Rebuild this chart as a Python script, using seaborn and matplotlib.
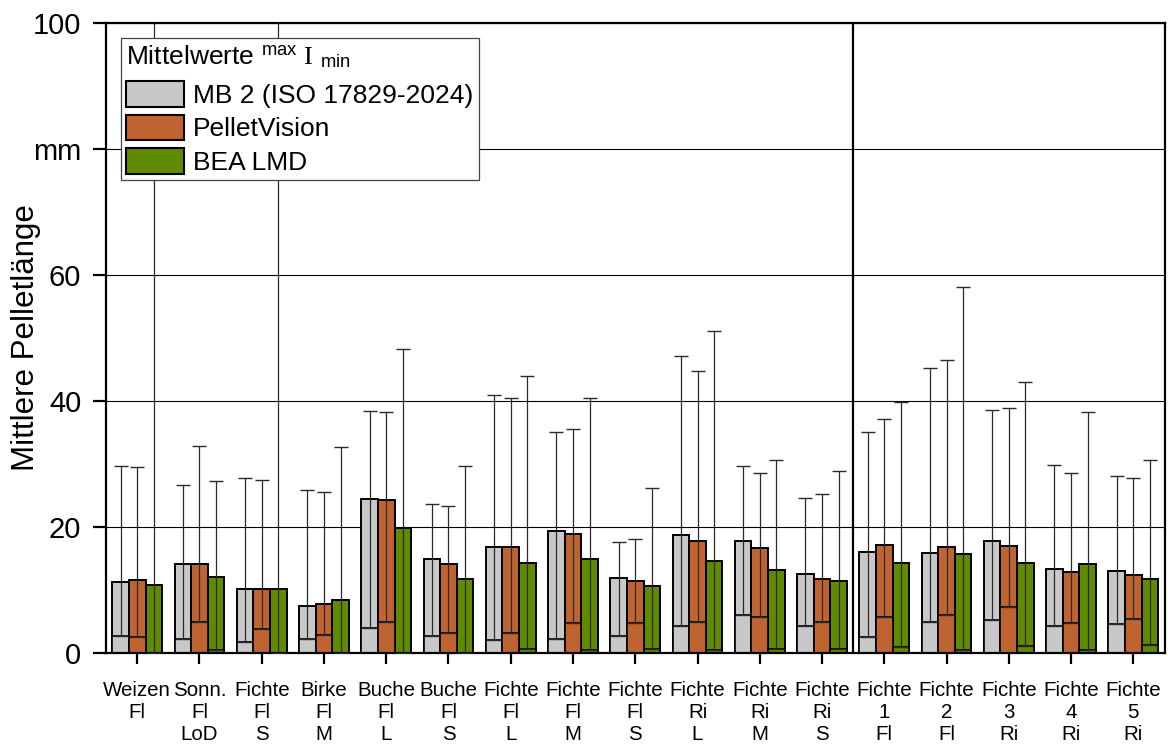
import numpy as np
import pandas as pd
import matplotlib
matplotlib.use("Agg")
import matplotlib.pyplot as plt
from matplotlib.patches import Patch
import seaborn as sns

# ---------------- data ----------------
categories = ["Weizen\nFl", "Sonn.\nFl\nLoD", "Fichte\nFl\nS", "Birke\nFl\nM", "Buche\nFl\nL",
              "Buche\nFl\nS", "Fichte\nFl\nL", "Fichte\nFl\nM", "Fichte\nFl\nS", "Fichte\nRi\nL",
              "Fichte\nRi\nM", "Fichte\nRi\nS", "Fichte\n1\nFl", "Fichte\n2\nFl", "Fichte\n3\nRi",
              "Fichte\n4\nRi", "Fichte\n5\nRi"]
methods = ["MB 2 (ISO 17829-2024)", "PelletVision", "BEA LMD"]

mb2_mean = [11.3, 14.2, 10.2, 7.4, 24.4, 14.9, 16.9, 19.3, 11.9, 18.7, 17.7, 12.5, 16.0, 15.9, 17.8, 13.4, 13.0]
mb2_min = [2.75, 2.3, 1.8, 2.3, 3.9, 2.75, 2.1, 2.2, 2.75, 4.3, 6.0, 4.3, 2.5, 5.0, 5.3, 4.3, 4.6]
mb2_max = [29.7, 26.6, 27.8, 25.9, 38.4, 23.7, 40.9, 35.1, 17.6, 47.1, 29.7, 24.6, 35.1, 45.3, 38.5, 29.8, 28.1]

pv_mean = [11.6, 14.2, 10.2, 7.8, 24.3, 14.1, 16.9, 18.9, 11.4, 17.7, 16.7, 11.7, 17.1, 16.8, 17.0, 12.9, 12.4]
pv_min = [2.5, 5.0, 3.8, 2.9, 5.0, 3.2, 3.2, 4.8, 4.7, 5.0, 5.7, 5.0, 5.7, 6.0, 7.3, 4.8, 5.4]
pv_max = [29.6, 32.8, 27.5, 25.5, 38.2, 23.3, 40.4, 35.6, 18.1, 44.8, 28.6, 25.3, 37.2, 46.5, 38.9, 28.6, 27.8]

bea_mean = [10.8, 12.1, 10.2, 8.4, 19.8, 11.8, 14.3, 14.9, 10.6, 14.6, 13.2, 11.4, 14.3, 15.7, 14.3, 14.1, 11.7]
bea_min = [0.0, 0.5, 0.0, 0.0, 0.0, 0.0, 0.6, 0.4, 0.6, 0.4, 0.6, 0.6, 0.9, 0.5, 1.1, 0.5, 1.2]
bea_max = [110, 27.3, 110, 32.7, 48.3, 29.7, 43.9, 40.5, 26.2, 51.1, 30.6, 28.9, 39.9, 58.1, 43.0, 38.3, 30.7]

ytick_vals = [0, 20, 40, 60, 80, 100]
ytick_labels = ["0", "20", "40", "60", "mm", "100"]
separator_after = 11  # vertical separator between group 11 and 12

colors = ["#C8C8C8", "#BF6430", "#608A00"]

# ---------------- table ----------------
ids = [f"c{i}" for i in range(len(categories))]
rows = []
for m, mean, mn, mx in zip(methods, [mb2_mean, pv_mean, bea_mean],
                           [mb2_min, pv_min, bea_min], [mb2_max, pv_max, bea_max]):
    for cid, a, b, c in zip(ids, mean, mn, mx):
        rows.append({"cid": cid, "method": m, "mean": a, "min": b, "max": c})
df = pd.DataFrame(rows)

# ---------------- style ----------------
sns.set_style("ticks")
plt.rcParams["font.family"] = ["Liberation Sans", "DejaVu Sans"]
plt.rcParams["mathtext.fontset"] = "custom"
plt.rcParams["mathtext.rm"] = "Liberation Serif"
plt.rcParams["mathtext.sf"] = "Liberation Sans"
plt.rcParams["mathtext.it"] = "Liberation Serif:italic"
for key in ["text.color", "axes.labelcolor", "xtick.color", "ytick.color"]:
    plt.rcParams[key] = "black"

fig = plt.figure(figsize=(11.68, 7.51), dpi=100)
ax = fig.add_axes([105.5 / 1168, 1 - 653 / 751, (1165 - 105.5) / 1168, (653 - 23) / 751])

ax.yaxis.grid(True, color="black", lw=0.8)
ax.set_axisbelow(True)

pal = dict(zip(methods, colors))
sns.barplot(data=df, x="cid", y="mean", hue="method", order=ids, hue_order=methods,
            palette=pal, edgecolor="black", linewidth=1.4, errorbar=None, width=0.8,
            saturation=1, ax=ax, legend=False)
sns.barplot(data=df, x="cid", y="min", hue="method", order=ids, hue_order=methods,
            palette=pal, edgecolor="black", linewidth=1.2, errorbar=None, width=0.8,
            saturation=1, ax=ax, legend=False)

# whiskers min -> max with cap at max
for k, m in enumerate(methods):
    cont = ax.containers[k]
    sub = df[df["method"] == m].set_index("cid").loc[ids]
    xs = [p.get_x() + p.get_width() / 2 for p in cont.patches]
    lo = sub["min"].values
    hi = sub["max"].values
    ax.errorbar(xs, hi, yerr=[hi - lo, np.zeros_like(hi)], fmt="none", ecolor="#2a2a2a",
                elinewidth=0.9, capsize=4.7, capthick=1.0, zorder=5)

ax.axvline(separator_after + 0.5, color="black", lw=1.6, zorder=6)

ax.set_xlim(-0.51, len(categories) - 0.49)
ax.set_ylim(0, 100)
ax.set_xticks(range(len(categories)))
ax.set_xticklabels(categories, fontsize=14.8, linespacing=1.22)
ax.set_yticks(ytick_vals)
ax.set_yticklabels(ytick_labels, fontsize=21)
ax.set_xlabel("")
ax.set_ylabel("Mittlere Pelletlänge", fontsize=22.5)
ax.yaxis.set_label_coords((41 - 105.5) / (1165 - 105.5), 0.5)

for s in ax.spines.values():
    s.set_visible(True)
    s.set_linewidth(1.6)
    s.set_color("black")
ax.tick_params(axis="y", length=9.5, width=1.6, pad=8, color="black", labelcolor="black")
ax.tick_params(axis="x", length=8, width=1.6, pad=12, color="black", labelcolor="black")

handles = [Patch(facecolor=c, edgecolor="black", linewidth=1.5) for c in colors]
leg = ax.legend(handles, methods,
                title=r"Mittelwerte $^{\mathsf{max}}$ $\mathrm{I}$ $_{\mathsf{min}}$",
                loc="upper left", bbox_to_anchor=(120.7 / 1168, 1 - 38 / 751),
                bbox_transform=fig.transFigure, borderaxespad=0, fontsize=19,
                title_fontsize=19, alignment="left", frameon=True, fancybox=False,
                framealpha=1, edgecolor="#444444", handlelength=2.2, handleheight=1.12,
                handletextpad=0.35, labelspacing=0.26, borderpad=0.2)
try:
    leg._legend_box.sep = 8
except Exception:
    pass
leg.get_title().set_color("black")
for t in leg.get_texts():
    t.set_color("black")
leg.get_frame().set_linewidth(0.9)
leg.set_zorder(10)

fig.savefig("out.png", dpi=100)
